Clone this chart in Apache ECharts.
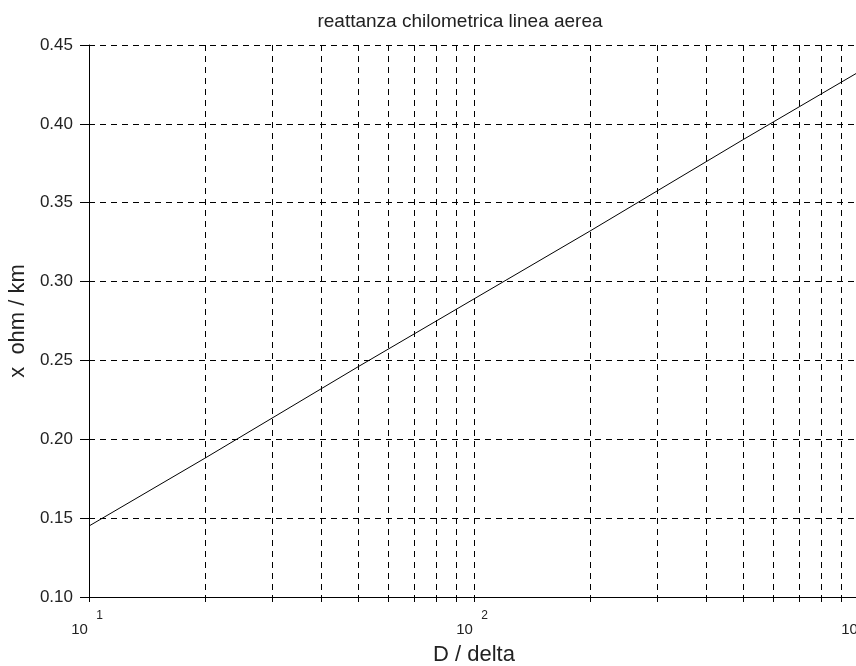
<!DOCTYPE html>
<html>
<head>
<meta charset="utf-8">
<script src="https://cdn.jsdelivr.net/npm/echarts@6/dist/echarts.min.js"></script>
<style>
  html, body { margin: 0; padding: 0; background: #fff; }
  #chart { width: 856px; height: 666px; }
</style>
</head>
<body>
<div id="chart"></div>
<script>
// D / delta (log scale) and reactance per km
const dRatio = [10, 20, 50, 100, 200, 500, 1000];
const reactance = [0.145, 0.188, 0.246, 0.289, 0.332, 0.390, 0.433];
// vertical grid positions of the log axis
const xGridValues = [10, 20, 30, 40, 50, 60, 70, 80, 90, 100, 200, 300, 400, 500, 600, 700, 800, 900, 1000];
const xMajor = [10, 100, 1000];

const chart = echarts.init(document.getElementById('chart'));
const dashed = { color: '#000', width: 1, type: [6, 5] };
const font = 'Liberation Sans, Arial, sans-serif';

chart.setOption({
  animation: false,
  title: {
    text: 'reattanza chilometrica linea aerea',
    left: 455,
    top: 7,
    textAlign: 'center',
    textStyle: { fontFamily: font, fontSize: 19, fontWeight: 'normal', color: '#222' }
  },
  grid: { left: 89, right: -3, top: 45, bottom: 69, outerBoundsMode: 'none', containLabel: false },
  xAxis: {
    type: 'log',
    logBase: 10,
    min: 10,
    max: 1000,
    name: 'D / delta',
    nameLocation: 'middle',
    nameGap: 47,
    nameTextStyle: { fontFamily: font, fontSize: 22, color: '#222' },
    axisLine: { lineStyle: { color: '#000', width: 1 } },
    axisTick: { show: true, customValues: xGridValues, length: 5, lineStyle: { color: '#000' } },
    axisLabel: {
      customValues: xMajor,
      margin: 12,
      color: '#222',
      fontFamily: font,
      hideOverlap: false,
      formatter: function (v) {
        const e = Math.round(Math.log10(v));
        return '{p|}{s|' + e + '}\n{b|10}{q|}';
      },
      rich: {
        p: { width: 18, height: 13, lineHeight: 13 },
        s: { width: 18, height: 13, lineHeight: 13, align: 'left', fontSize: 12, fontFamily: font, color: '#222', padding: [0, 0, 0, 3] },
        b: { width: 18, height: 16, lineHeight: 16, align: 'right', fontSize: 15, fontFamily: font, color: '#222', padding: [0, 1, 0, 0] },
        q: { width: 18, height: 16, lineHeight: 16 }
      }
    },
    splitLine: { show: true, customValues: xGridValues, lineStyle: dashed },
    minorTick: { show: false }
  },
  yAxis: {
    type: 'value',
    min: 0.1,
    max: 0.45,
    interval: 0.05,
    name: 'x  ohm / km',
    nameLocation: 'middle',
    nameGap: 58,
    nameTextStyle: { fontFamily: font, fontSize: 22, color: '#222' },
    axisLine: { show: true, lineStyle: { color: '#000', width: 1 } },
    axisTick: { show: true, length: 9, lineStyle: { color: '#000' } },
    axisLabel: {
      margin: 16,
      color: '#222',
      fontFamily: font,
      fontSize: 17,
      formatter: function (v) { return v.toFixed(2); }
    },
    splitLine: { show: true, lineStyle: dashed }
  },
  series: [{
    type: 'line',
    data: dRatio.map((d, i) => [d, reactance[i]]),
    showSymbol: false,
    lineStyle: { color: '#000', width: 1 },
    silent: true
  }]
});
</script>
</body>
</html>
